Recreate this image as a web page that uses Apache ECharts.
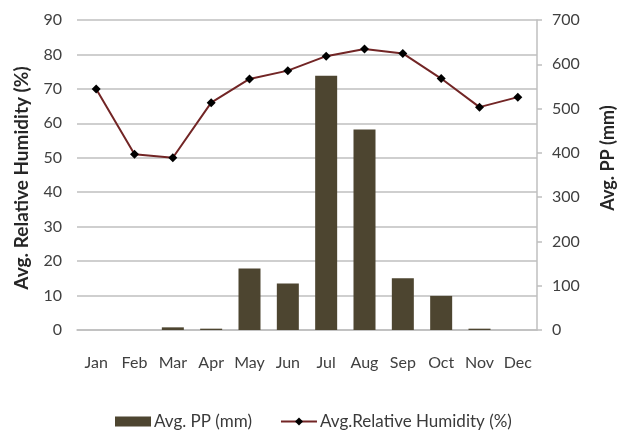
<!DOCTYPE html>
<html>
<head>
<meta charset="utf-8">
<script src="https://cdn.jsdelivr.net/npm/echarts@6/dist/echarts.min.js"></script>
<style>
  html, body { margin: 0; padding: 0; background: #fff; }
  #chart { width: 625px; height: 431px; }
</style>
</head>
<body>
<div id="chart"></div>
<script>
const months = ['Jan','Feb','Mar','Apr','May','Jun','Jul','Aug','Sep','Oct','Nov','Dec'];
const precip = [0, 0, 6, 3, 139, 105, 574, 453, 117, 77, 3, 0];
const humidity = [70, 51, 50, 66, 72.9, 75.3, 79.5, 81.6, 80.3, 73, 64.7, 67.6];
const leftTicks = { min: 0, max: 90, interval: 10 };
const rightTicks = { min: 0, max: 700, interval: 100 };

const FONT = 'Lato, "Open Sans", sans-serif';
const chart = echarts.init(document.getElementById('chart'), null, { renderer: 'canvas' });
chart.setOption({
  animation: false,
  backgroundColor: '#ffffff',
  textStyle: { fontFamily: FONT },
  grid: { left: 77, right: 88, top: 20, bottom: 101, containLabel: false },
  legend: {
    top: 408,
    left: 110,
    itemWidth: 36,
    itemHeight: 10,
    itemGap: 28,
    textStyle: { fontFamily: FONT, fontSize: 17, color: '#3a3a3a', padding: [0, 0, 0, -2] },
    data: [
      { name: 'Avg. PP (mm)', icon: 'rect' },
      { name: 'Avg.Relative Humidity (%)' }
    ]
  },
  xAxis: {
    type: 'category',
    data: months,
    axisLine: { show: true, lineStyle: { color: '#bfbfbf', width: 1.5 } },
    axisTick: { show: false },
    axisLabel: { margin: 25, fontSize: 16, color: '#404040', fontFamily: FONT, interval: 0 }
  },
  yAxis: [
    {
      type: 'value',
      position: 'left',
      min: leftTicks.min, max: leftTicks.max, interval: leftTicks.interval,
      axisLine: { show: false },
      axisTick: { show: false },
      axisLabel: { margin: 15, fontSize: 16, color: '#404040', fontFamily: FONT },
      splitLine: { show: true, lineStyle: { color: '#bfbfbf', width: 1.5 } }
    },
    {
      type: 'value',
      position: 'right',
      min: rightTicks.min, max: rightTicks.max, interval: rightTicks.interval,
      axisLine: { show: true, lineStyle: { color: '#bfbfbf', width: 1.5 } },
      axisTick: { show: true, length: 5, lineStyle: { color: '#bfbfbf', width: 1.5 } },
      axisLabel: { margin: 15, fontSize: 16, color: '#404040', fontFamily: FONT },
      splitLine: { show: false }
    }
  ],
  graphic: [
    {
      type: 'text',
      x: 22, y: 178,
      rotation: Math.PI / 2,
      style: {
        text: 'Avg. Relative Humidity (%)',
        font: 'bold 19px ' + FONT,
        fill: '#262626',
        align: 'center',
        verticalAlign: 'middle'
      }
    },
    {
      type: 'text',
      x: 608, y: 158,
      rotation: Math.PI / 2,
      style: {
        text: 'Avg. PP (mm)',
        font: 'bold 18px ' + FONT,
        fill: '#262626',
        align: 'center',
        verticalAlign: 'middle'
      }
    }
  ],
  series: [
    {
      name: 'Avg. PP (mm)',
      type: 'bar',
      yAxisIndex: 1,
      data: precip,
      barWidth: 22,
      itemStyle: { color: '#4d4530' }
    },
    {
      name: 'Avg.Relative Humidity (%)',
      type: 'line',
      yAxisIndex: 0,
      data: humidity,
      symbol: 'diamond',
      symbolSize: 9,
      lineStyle: { color: '#722525', width: 2 },
      itemStyle: { color: '#000000' },
      z: 5
    }
  ]
});
</script>
</body>
</html>
